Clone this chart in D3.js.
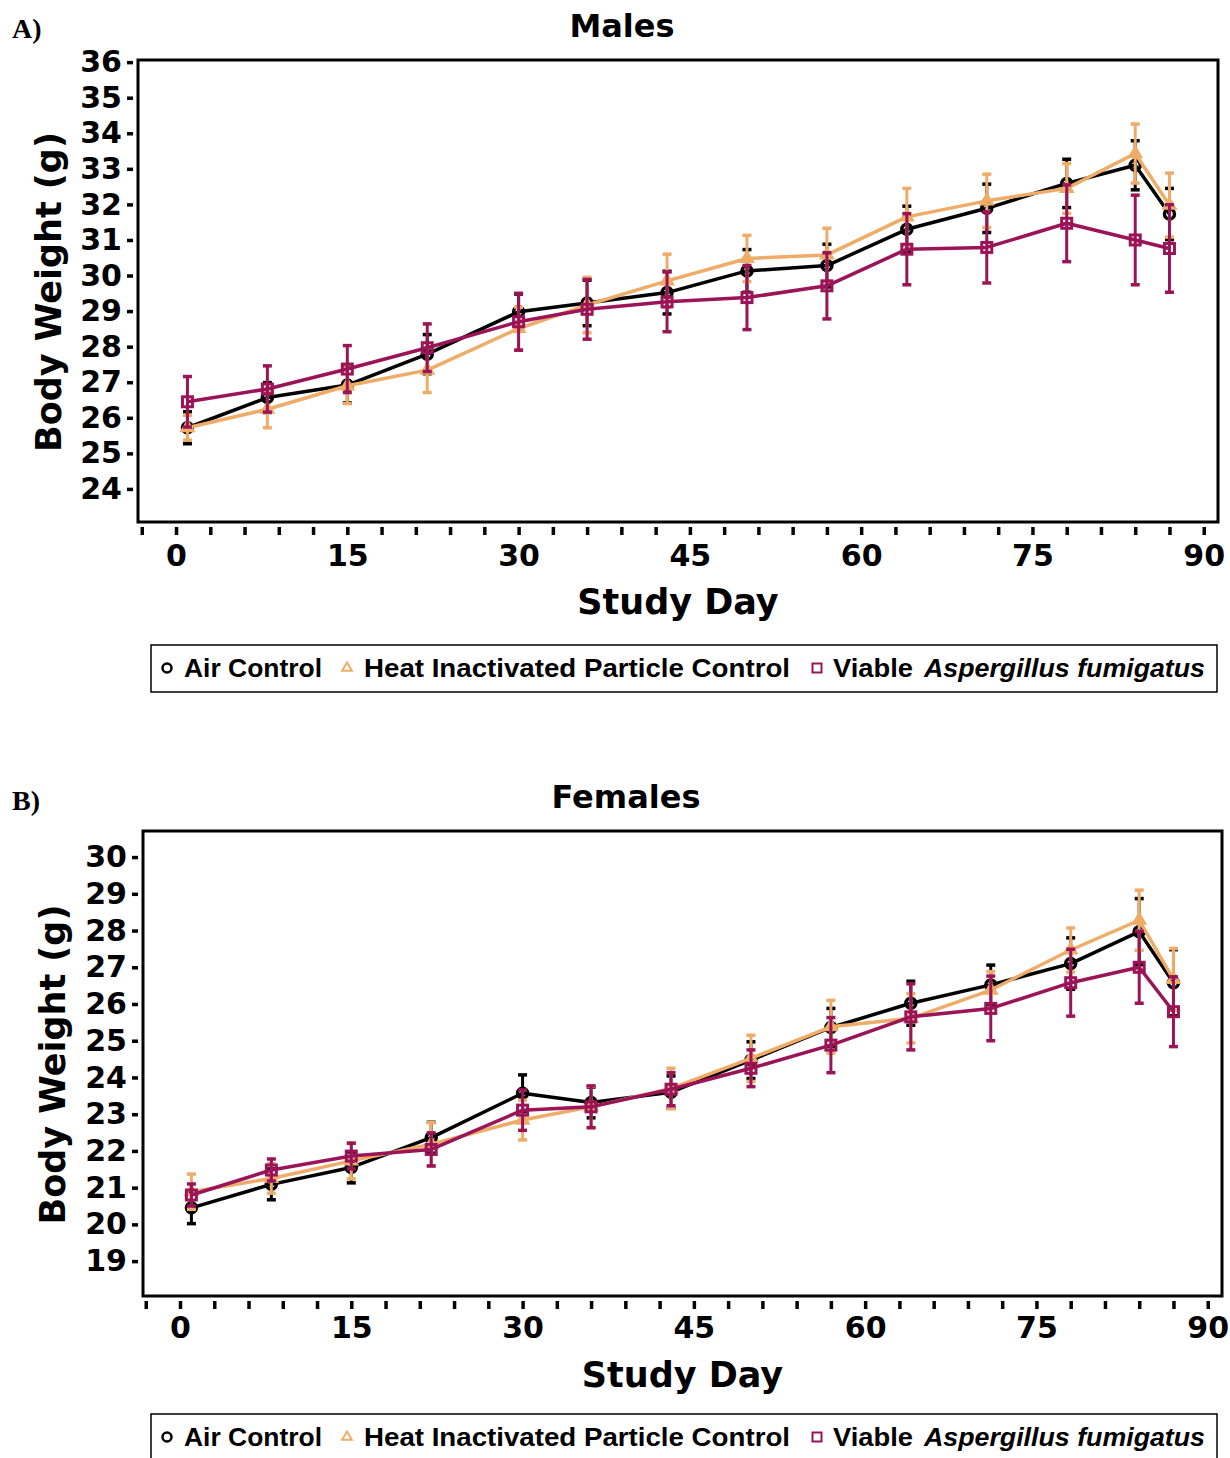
<!DOCTYPE html>
<html>
<head>
<meta charset="utf-8">
<script src="https://cdn.jsdelivr.net/npm/d3@7"></script>
<style>
body { margin: 0; background: #fff; }
svg text { font-family: "DejaVu Sans", sans-serif; font-weight: bold; fill: #000; }
</style>
</head>
<body>
<svg width="1230" height="1458"></svg>
<script>
// study days where body weight was measured
const days = [1, 8, 15, 22, 30, 36, 43, 50, 57, 64, 71, 78, 84, 87]

// Males, mean body weight (g) and SE
const malesAir = [25.72, 26.57, 26.92, 27.79, 28.98, 29.23, 29.52, 30.13, 30.28, 31.30, 31.89, 32.59, 33.10, 31.73]
const malesAirErr = [0.45, 0.42, 0.50, 0.55, 0.50, 0.64, 0.60, 0.60, 0.60, 0.65, 0.68, 0.68, 0.69, 0.72]
const malesHeat = [25.72, 26.24, 26.90, 27.34, 28.51, 29.17, 29.85, 30.48, 30.58, 31.65, 32.10, 32.45, 33.43, 31.98]
const malesHeatErr = [0.35, 0.52, 0.50, 0.63, 0.60, 0.78, 0.75, 0.65, 0.75, 0.80, 0.75, 0.70, 0.83, 0.90]
const malesViable = [26.45, 26.81, 27.37, 27.97, 28.70, 29.05, 29.26, 29.38, 29.71, 30.74, 30.79, 31.47, 31.00, 30.76]
const malesViableErr = [0.71, 0.65, 0.66, 0.67, 0.80, 0.84, 0.84, 0.90, 0.93, 1.00, 1.00, 1.08, 1.26, 1.23]

// Females
const femalesAir = [20.45, 21.09, 21.55, 22.36, 23.57, 23.32, 23.60, 24.47, 25.36, 26.02, 26.52, 27.10, 27.97, 26.58]
const femalesAirErr = [0.43, 0.42, 0.42, 0.42, 0.50, 0.42, 0.44, 0.50, 0.52, 0.60, 0.54, 0.70, 0.90, 0.90]
const femalesHeat = [20.89, 21.25, 21.73, 22.18, 22.84, 23.20, 23.70, 24.52, 25.38, 25.61, 26.38, 27.47, 28.28, 26.67]
const femalesHeatErr = [0.48, 0.40, 0.49, 0.59, 0.54, 0.56, 0.55, 0.63, 0.72, 0.67, 0.50, 0.60, 0.82, 0.84]
const femalesViable = [20.80, 21.48, 21.86, 22.04, 23.11, 23.20, 23.68, 24.25, 24.88, 25.65, 25.88, 26.58, 27.00, 25.79]
const femalesViableErr = [0.30, 0.30, 0.35, 0.45, 0.55, 0.57, 0.45, 0.50, 0.75, 0.90, 0.88, 0.91, 0.98, 0.95]

const groups = ["Air Control", "Heat Inactivated Particle Control", "Viable"]
const yTicksMales = d3.range(24, 37)
const yTicksFemales = d3.range(19, 31)
const xTicks = d3.range(-3, 91, 3)
const xLabels = [0, 15, 30, 45, 60, 75, 90]

const colors = ["#000000", "#efac68", "#9b1458"]
const shapes = ["circle", "triangle", "square"]

const svg = d3.select("svg")

const panels = [
    {
        letter: "A)", title: "Males",
        means: [malesAir, malesHeat, malesViable],
        errs: [malesAirErr, malesHeatErr, malesViableErr],
        yTicks: yTicksMales, yDomain: [23.07, 36.06], xDomain: [-3.33, 91.25],
        left: 138, right: 1218, top: 60, bottom: 522,
        letterY: 38, titleX: 622, titleY: 37, yLabelX: 61, xLabelY: 614, xPad: 10, legendY: 645
    },
    {
        letter: "B)", title: "Females",
        means: [femalesAir, femalesHeat, femalesViable],
        errs: [femalesAirErr, femalesHeatErr, femalesViableErr],
        yTicks: yTicksFemales, yDomain: [18.05, 30.71], xDomain: [-3.24, 91.25],
        left: 143, right: 1222, top: 831, bottom: 1296,
        letterY: 810, titleX: 626, titleY: 808, yLabelX: 65, xLabelY: 1387, xPad: 8, legendY: 1414
    }
]

const marker = (g, shape, color, size, sw) => {
    if (shape === "circle") {
        g.append("circle").attr("r", size / 2)
            .attr("fill", "none").attr("stroke", color).attr("stroke-width", sw + 0.5)
    } else if (shape === "square") {
        g.append("rect").attr("x", -size / 2).attr("y", -size / 2)
            .attr("width", size).attr("height", size)
            .attr("fill", "none").attr("stroke", color).attr("stroke-width", sw)
    } else {
        g.append("path").attr("d", d3.symbol(d3.symbolTriangle, size * size * 0.5)())
            .attr("fill", "none").attr("stroke", color).attr("stroke-width", sw)
    }
}

panels.forEach(p => {
    const x = d3.scaleLinear().domain(p.xDomain).range([p.left, p.right])
    const y = d3.scaleLinear().domain(p.yDomain).range([p.bottom, p.top])

    svg.append("text").text(p.letter)
        .attr("x", 12).attr("y", p.letterY)
        .style("font-family", "'Liberation Serif', serif")
        .style("font-size", "28px")

    svg.append("text").text(p.title)
        .attr("x", p.titleX).attr("y", p.titleY)
        .attr("text-anchor", "middle")
        .style("font-size", "32px")

    svg.append("rect")
        .attr("x", p.left).attr("y", p.top)
        .attr("width", p.right - p.left).attr("height", p.bottom - p.top)
        .attr("fill", "none").attr("stroke", "#000").attr("stroke-width", 3)

    const yAxis = svg.append("g")
        .attr("transform", `translate(${p.left - 5}, 0)`)
        .call(d3.axisLeft(y).tickValues(p.yTicks).tickSize(6).tickPadding(5))
    const xAxis = svg.append("g")
        .attr("transform", `translate(0, ${p.bottom + 5})`)
        .call(d3.axisBottom(x).tickValues(xTicks).tickSize(8).tickPadding(p.xPad)
            .tickFormat(d => xLabels.includes(d) ? d : ""))

    ;[yAxis, xAxis].forEach(a => {
        a.select(".domain").remove()
        a.selectAll(".tick line").attr("stroke", "#000").attr("stroke-width", 3.5)
        a.selectAll(".tick text")
            .style("font-family", "'DejaVu Sans', sans-serif")
            .style("font-weight", "bold").style("font-size", "30px")
    })

    svg.append("text").text("Body Weight (g)")
        .attr("transform", `translate(${p.yLabelX}, ${(p.top + p.bottom) / 2 + 1}) rotate(-90)`)
        .attr("text-anchor", "middle")
        .style("font-size", "35px")

    svg.append("text").text("Study Day")
        .attr("x", (p.left + p.right) / 2).attr("y", p.xLabelY)
        .attr("text-anchor", "middle")
        .style("font-size", "35px")

    // series: error bars, line, markers
    p.means.forEach((means, k) => {
        const rows = days.map((d, i) => ({day: d, mean: means[i], err: p.errs[k][i]}))
        const color = colors[k]
        const g = svg.append("g")

        const eb = g.selectAll(".eb").data(rows).enter().append("g")
            .attr("stroke", color).attr("stroke-width", 3)
        eb.append("line")
            .attr("x1", d => x(d.day)).attr("x2", d => x(d.day))
            .attr("y1", d => y(d.mean - d.err)).attr("y2", d => y(d.mean + d.err))
        eb.append("line")
            .attr("x1", d => x(d.day) - 4.5).attr("x2", d => x(d.day) + 4.5)
            .attr("y1", d => y(d.mean + d.err)).attr("y2", d => y(d.mean + d.err))
            .attr("stroke-width", 3.5)
        eb.append("line")
            .attr("x1", d => x(d.day) - 4.5).attr("x2", d => x(d.day) + 4.5)
            .attr("y1", d => y(d.mean - d.err)).attr("y2", d => y(d.mean - d.err))
            .attr("stroke-width", 3.5)

        g.append("path").datum(rows)
            .attr("fill", "none").attr("stroke", color).attr("stroke-width", 3.5)
            .attr("stroke-linejoin", "round")
            .attr("d", d3.line().x(d => x(d.day)).y(d => y(d.mean)))

        g.selectAll(".mk").data(rows).enter().append("g")
            .attr("transform", d => `translate(${x(d.day)}, ${y(d.mean)})`)
            .each(function () { marker(d3.select(this), shapes[k], color, 10, 3) })
    })

    // legend
    const ly = p.legendY
    svg.append("rect")
        .attr("x", 151).attr("y", ly).attr("width", 1066).attr("height", 47)
        .attr("fill", "none").attr("stroke", "#000").attr("stroke-width", 1.5)

    const items = [
        {mx: 167, tx: 184, w: 138},
        {mx: 347, tx: 364, w: 426},
        {mx: 817, tx: 833, w: 80}
    ]
    items.forEach((it, k) => {
        const m = svg.append("g").attr("transform", `translate(${it.mx}, ${ly + 23})`)
        marker(m, shapes[k], colors[k], 9, 2)
        svg.append("text").text(groups[k])
            .attr("x", it.tx).attr("y", ly + 32)
            .attr("textLength", it.w).attr("lengthAdjust", "spacingAndGlyphs")
            .style("font-family", "'Liberation Sans', Arial, sans-serif")
            .style("font-size", "25px")
    })
    svg.append("text").text("Aspergillus fumigatus")
        .attr("x", 924).attr("y", ly + 32)
        .attr("textLength", 281).attr("lengthAdjust", "spacingAndGlyphs")
        .style("font-family", "'Liberation Sans', Arial, sans-serif")
        .style("font-style", "italic")
        .style("font-size", "25px")
})
</script>
</body>
</html>
